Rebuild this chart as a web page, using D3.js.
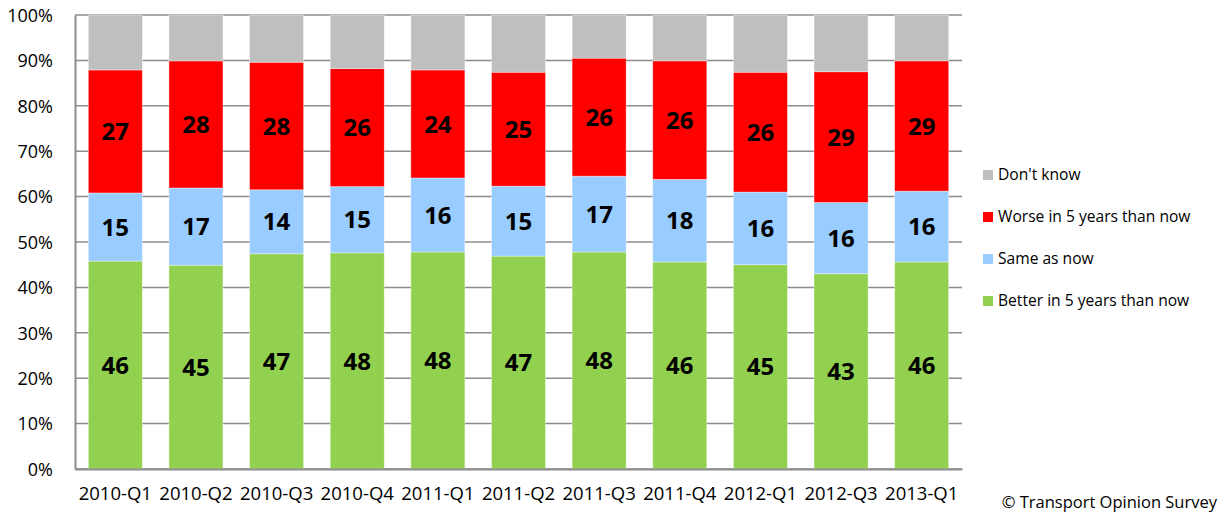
<!DOCTYPE html>
<html>
<head>
<meta charset="utf-8">
<script src="https://cdn.jsdelivr.net/npm/d3@7"></script>
<style>
  body { margin: 0; background: #fff; }
  svg text { font-family: "Open Sans", sans-serif; fill: #000; }
</style>
</head>
<body>
<div id="chart"></div>
<script>
// quarters on the x axis
var quarters = ["2010-Q1", "2010-Q2", "2010-Q3", "2010-Q4", "2011-Q1", "2011-Q2",
                "2011-Q3", "2011-Q4", "2012-Q1", "2012-Q3", "2013-Q1"];

// percentages (labels show the rounded value)
var better  = [45.8, 44.9, 47.4, 47.6, 47.8, 46.9, 47.8, 45.6, 45.0, 43.0, 45.6];
var same    = [15.0, 17.0, 14.1, 14.6, 16.3, 15.4, 16.7, 18.2, 16.0, 15.7, 15.6];
var worse   = [27.1, 28.0, 28.1, 26.0, 23.8, 25.1, 26.0, 26.1, 26.4, 28.8, 28.7];
var dontKnow = better.map(function(b, i) { return 100 - b - same[i] - worse[i]; });

var seriesNames = ["Better in 5 years than now", "Same as now", "Worse in 5 years than now", "Don't know"];
var seriesColors = ["#92d050", "#99ccff", "#ff0000", "#bfbfbf"];
var yTicks = [0, 10, 20, 30, 40, 50, 60, 70, 80, 90, 100];

var width = 1224,
    height = 513,
    margin = {left: 75, right: 262, top: 15, bottom: 44};

var svg = d3.select("#chart").append("svg")
    .attr("width", width)
    .attr("height", height);

var rows = quarters.map(function(q, i) {
    return {quarter: q, b: better[i], s: same[i], w: worse[i], d: dontKnow[i]};
});
var keys = ["b", "s", "w", "d"];
var stacked = d3.stack().keys(keys)(rows);

var x = d3.scaleBand()
    .domain(quarters)
    .range([margin.left, width - margin.right])
    .paddingInner(0.33)
    .paddingOuter(0.165);

var y = d3.scaleLinear()
    .domain([0, 100])
    .range([height - margin.bottom, margin.top]);

// gridlines
svg.append("g").selectAll("line")
    .data(yTicks)
    .enter().append("line")
        .attr("x1", margin.left)
        .attr("x2", width - margin.right)
        .attr("y1", function(d) { return y(d); })
        .attr("y2", function(d) { return y(d); })
        .attr("stroke", "#8c8c8c")
        .attr("stroke-width", 1.5);

// bars
var layer = svg.append("g").selectAll("g")
    .data(stacked)
    .enter().append("g")
        .attr("fill", function(d, i) { return seriesColors[i]; });

layer.selectAll("rect")
    .data(function(d) { return d; })
    .enter().append("rect")
        .attr("x", function(d) { return x(d.data.quarter); })
        .attr("width", x.bandwidth())
        .attr("y", function(d) { return y(d[1]); })
        .attr("height", function(d) { return y(d[0]) - y(d[1]); })
        .attr("stroke", "#fff")
        .attr("stroke-opacity", 0.5)
        .attr("stroke-width", 0.75);

// value labels (not for "don't know")
layer.filter(function(d, i) { return i < 3; })
    .selectAll("text")
    .data(function(d) { return d; })
    .enter().append("text")
        .attr("x", function(d) { return x(d.data.quarter) + x.bandwidth() / 2; })
        .attr("y", function(d) { return (y(d[0]) + y(d[1])) / 2; })
        .attr("dy", "0.36em")
        .attr("text-anchor", "middle")
        .style("font-size", "24px")
        .style("font-weight", "bold")
        .text(function(d) { return Math.round(d[1] - d[0]); });

// axes
var yAxis = svg.append("g")
    .attr("transform", "translate(" + margin.left + ",0)")
    .call(d3.axisLeft(y).tickValues(yTicks).tickSize(0).tickPadding(22)
        .tickFormat(function(d) { return d + "%"; }));
yAxis.select(".domain").attr("stroke", "#8c8c8c").attr("stroke-width", 2);
yAxis.selectAll("text").style("font-size", "18px").attr("dy", "0.35em");

var xAxis = svg.append("g")
    .attr("transform", "translate(0," + y(0) + ")")
    .call(d3.axisBottom(x).tickSize(0).tickPadding(18));
xAxis.select(".domain").attr("stroke", "#8c8c8c").attr("stroke-width", 2);
xAxis.selectAll("text").style("font-size", "18.5px");

// legend, top entry is "Don't know"
var legend = svg.append("g").selectAll("g")
    .data(d3.range(4).reverse())
    .enter().append("g")
        .attr("transform", function(d, i) { return "translate(983," + (175 + i * 42) + ")"; });
legend.append("rect")
    .attr("y", -5)
    .attr("width", 10)
    .attr("height", 10)
    .attr("fill", function(d) { return seriesColors[d]; });
legend.append("text")
    .attr("x", 15)
    .attr("dy", "0.35em")
    .style("font-size", "15.6px")
    .text(function(d) { return seriesNames[d]; });

svg.append("text")
    .attr("x", 1217)
    .attr("y", 508)
    .attr("text-anchor", "end")
    .style("font-size", "16.5px")
    .text("\u00a9 Transport Opinion Survey");
</script>
</body>
</html>
